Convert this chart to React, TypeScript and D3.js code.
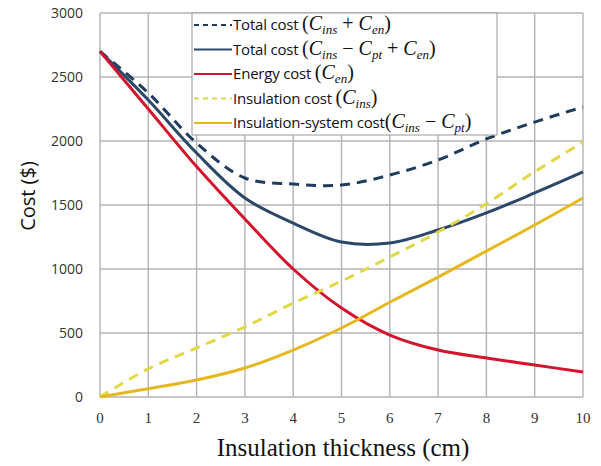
import React, { useRef, useEffect } from "react";
import * as d3 from "d3";

// insulation thickness (cm)
const thickness = [0, 1, 2, 3, 4, 5, 6, 7, 8, 9, 10];

// cost series ($)
const totalCostNoPt = [2700, 2375, 1984, 1711, 1664, 1656, 1734, 1852, 2016, 2148, 2266];
const totalCost = [2700, 2320, 1906, 1555, 1359, 1211, 1203, 1305, 1438, 1594, 1758];
const energyCost = [2700, 2250, 1800, 1390, 1000, 695, 484, 367, 305, 250, 195];
const insulationCost = [0, 220, 383, 547, 734, 905, 1094, 1289, 1510, 1760, 1990];
const insulationSystemCost = [0, 65, 133, 227, 367, 539, 740, 937, 1140, 1344, 1555];

const yTicks = [0, 500, 1000, 1500, 2000, 2500, 3000];
const xTicks = [0, 1, 2, 3, 4, 5, 6, 7, 8, 9, 10];

type Part = { t: string; sub?: boolean; it?: boolean };

const series = [
  {
    label: "Total cost ",
    math: [{ t: "(" }, { t: "C", it: true }, { t: "ins", sub: true, it: true }, { t: " + " }, { t: "C", it: true }, { t: "en", sub: true, it: true }, { t: ")" }] as Part[],
    values: totalCostNoPt,
    color: "#1f3c5e",
    dash: "10,7",
  },
  {
    label: "Total cost ",
    math: [{ t: "(" }, { t: "C", it: true }, { t: "ins", sub: true, it: true }, { t: " − " }, { t: "C", it: true }, { t: "pt", sub: true, it: true }, { t: " + " }, { t: "C", it: true }, { t: "en", sub: true, it: true }, { t: ")" }] as Part[],
    values: totalCost,
    color: "#2c4868",
    dash: null,
  },
  {
    label: "Energy cost ",
    math: [{ t: "(" }, { t: "C", it: true }, { t: "en", sub: true, it: true }, { t: ")" }] as Part[],
    values: energyCost,
    color: "#d3142c",
    dash: null,
  },
  {
    label: "Insulation cost ",
    math: [{ t: "(" }, { t: "C", it: true }, { t: "ins", sub: true, it: true }, { t: ")" }] as Part[],
    values: insulationCost,
    color: "#e2d845",
    dash: "10,7",
  },
  {
    label: "Insulation-system cost",
    math: [{ t: "(" }, { t: "C", it: true }, { t: "ins", sub: true, it: true }, { t: " − " }, { t: "C", it: true }, { t: "pt", sub: true, it: true }, { t: ")" }] as Part[],
    values: insulationSystemCost,
    color: "#e6b820",
    dash: null,
  },
];

const App = () => {
  const svgRef = useRef<SVGSVGElement>(null);

  useEffect(() => {
    const svg = d3.select(svgRef.current);
    svg.selectAll("*").remove();

    const x = d3.scaleLinear().domain([0, 10]).range([100, 583]);
    const y = d3.scaleLinear().domain([0, 3000]).range([397, 13]);

    svg.append("rect").attr("width", 601).attr("height", 466).attr("fill", "#fff");

    // grid
    const grid = svg.append("g").attr("stroke", "#b4b4b4").attr("stroke-width", 1.4);
    grid
      .selectAll("line.v")
      .data(xTicks)
      .enter()
      .append("line")
      .attr("x1", (d) => x(d))
      .attr("x2", (d) => x(d))
      .attr("y1", y(0))
      .attr("y2", y(3000));
    grid
      .selectAll("line.h")
      .data(yTicks)
      .enter()
      .append("line")
      .attr("x1", x(0))
      .attr("x2", x(10))
      .attr("y1", (d) => y(d))
      .attr("y2", (d) => y(d));

    // tick labels
    svg
      .append("g")
      .selectAll("text")
      .data(yTicks)
      .enter()
      .append("text")
      .attr("x", 83)
      .attr("y", (d) => y(d) + 5)
      .attr("text-anchor", "end")
      .attr("font-family", "Open Sans")
      .attr("font-size", 14)
      .attr("fill", "#333")
      .text((d) => d);

    svg
      .append("g")
      .selectAll("text")
      .data(xTicks)
      .enter()
      .append("text")
      .attr("x", (d) => x(d))
      .attr("y", 423)
      .attr("text-anchor", "middle")
      .attr("font-family", "Liberation Serif")
      .attr("font-size", 15)
      .attr("fill", "#333")
      .text((d) => d);

    // axis titles
    svg
      .append("text")
      .attr("transform", "rotate(-90)")
      .attr("x", -196)
      .attr("y", 35)
      .attr("text-anchor", "middle")
      .attr("font-family", "Open Sans")
      .attr("font-size", 20)
      .attr("fill", "#111")
      .text("Cost ($)");

    svg
      .append("text")
      .attr("x", 343)
      .attr("y", 456)
      .attr("text-anchor", "middle")
      .attr("font-family", "Liberation Serif")
      .attr("font-size", 25)
      .attr("fill", "#111")
      .text("Insulation thickness (cm)");

    // lines
    const line = d3
      .line<number>()
      .x((_, i) => x(thickness[i]))
      .y((d) => y(d))
      .curve(d3.curveCatmullRom.alpha(0.5));

    series.forEach((s) => {
      svg
        .append("path")
        .attr("d", line(s.values))
        .attr("fill", "none")
        .attr("stroke", s.color)
        .attr("stroke-width", 3)
        .attr("stroke-dasharray", s.dash)
        .attr("stroke-linecap", "butt");
    });

    // legend
    const lg = svg.append("g");
    lg.append("rect")
      .attr("x", 192)
      .attr("y", 13)
      .attr("width", 305)
      .attr("height", 122)
      .attr("fill", "#fff")
      .attr("stroke", "#999")
      .attr("stroke-width", 1);

    const rowY = [25, 49.5, 74, 98.5, 123];
    series.forEach((s, i) => {
      const cy = rowY[i];
      lg.append("line")
        .attr("x1", 194)
        .attr("x2", 232)
        .attr("y1", cy)
        .attr("y2", cy)
        .attr("stroke", s.color)
        .attr("stroke-width", 2)
        .attr("stroke-dasharray", s.dash ? "5,4" : null);
      const t = lg
        .append("text")
        .attr("x", 233)
        .attr("y", cy + 5)
        .attr("font-family", "Open Sans")
        .attr("font-size", 15)
        .attr("fill", "#111");
      t.append("tspan").attr("letter-spacing", -0.2).text(s.label);
      let inSub = false;
      s.math.forEach((p) => {
        const ts = t
          .append("tspan")
          .attr("font-family", "Liberation Serif")
          .attr("font-size", p.sub ? 13 : 20)
          .text(p.t);
        if (p.it) ts.attr("font-style", "italic");
        if (p.sub && !inSub) ts.attr("dy", 4);
        if (!p.sub && inSub) ts.attr("dy", -4);
        inSub = !!p.sub;
      });
    });
  }, []);

  return (
    <svg
      ref={svgRef}
      width={601}
      height={466}
      style={{ position: "absolute", left: 0, top: 0 }}
    ></svg>
  );
};

export default App;
